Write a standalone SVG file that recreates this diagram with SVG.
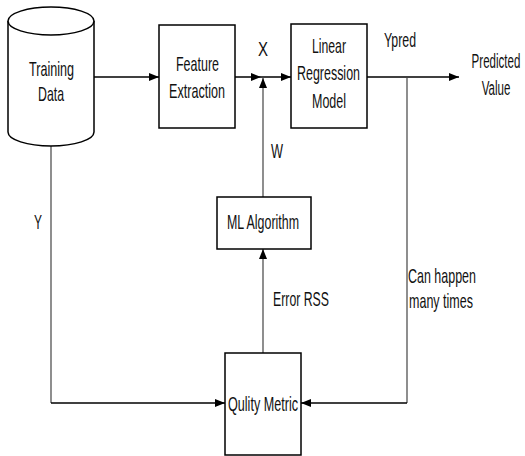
<svg xmlns="http://www.w3.org/2000/svg" width="525" height="456" viewBox="0 0 525 456">
<style>
.box{fill:#fff;stroke:#000;stroke-width:1.5}
.ln{fill:none;stroke:#000;stroke-width:1.5}
.vl{fill:none;stroke:#444;stroke-width:1.2}
text{font-family:"Liberation Sans",Arial,sans-serif;font-size:21px;fill:#111}
.c{text-anchor:middle}
</style>
<defs>
<marker id="ah" markerUnits="userSpaceOnUse" markerWidth="11" markerHeight="9" refX="10" refY="4" orient="auto">
<path d="M0,0 L10,4 L0,8 z" fill="#000"/>
</marker>
</defs>
<rect width="525" height="456" fill="#fff"/>
<g id="connectors">
<path class="ln" d="M94,77 H159" marker-end="url(#ah)"/>
<path class="ln" d="M235,77 H261" marker-end="url(#ah)"/>
<path class="ln" d="M261,77 H291" marker-end="url(#ah)"/>
<path class="vl" d="M263,197 V78" marker-end="url(#ah)"/>
<path class="ln" d="M367,77 H459" marker-end="url(#ah)"/>
<path class="vl" d="M407,77 V403"/>
<path class="ln" d="M407,403 H301" marker-end="url(#ah)"/>
<path class="vl" d="M51,146 V403"/>
<path class="ln" d="M51,403 H225" marker-end="url(#ah)"/>
<path class="vl" d="M263,353 V249" marker-end="url(#ah)"/>
</g>
<g id="training-data">
<path class="box" d="M8,21 V132 A43,14 0 0 0 94,132 V21"/>
<ellipse class="box" cx="51" cy="21" rx="43" ry="14"/>
<text class="c" x="51.5" y="76" textLength="45" lengthAdjust="spacingAndGlyphs">Training</text>
<text class="c" x="51" y="101" textLength="26" lengthAdjust="spacingAndGlyphs">Data</text>
</g>
<g id="feature-extraction">
<rect class="box" x="159" y="25" width="76" height="103"/>
<text class="c" x="197.5" y="71" textLength="43" lengthAdjust="spacingAndGlyphs">Feature</text>
<text class="c" x="197" y="98" textLength="56" lengthAdjust="spacingAndGlyphs">Extraction</text>
</g>
<g id="linear-regression">
<rect class="box" x="291" y="24" width="76" height="104"/>
<text class="c" x="329" y="53" textLength="34" lengthAdjust="spacingAndGlyphs">Linear</text>
<text class="c" x="328.5" y="80" textLength="63" lengthAdjust="spacingAndGlyphs">Regression</text>
<text class="c" x="329" y="108" textLength="34" lengthAdjust="spacingAndGlyphs">Model</text>
</g>
<g id="ml-algorithm">
<rect class="box" x="217" y="197" width="94" height="52"/>
<text class="c" x="263" y="229" textLength="72" lengthAdjust="spacingAndGlyphs">ML Algorithm</text>
</g>
<g id="quality-metric">
<rect class="box" x="225" y="353" width="76" height="102"/>
<text class="c" x="263" y="411" textLength="70" lengthAdjust="spacingAndGlyphs">Qulity Metric</text>
</g>
<g id="predicted-value">
<g transform="translate(496,0) scale(0.55,1)">
<text class="c" x="0" y="68">Predicted</text>
<text class="c" x="0" y="95">Value</text>
</g>
</g>
<g id="labels">
<text class="c" x="263" y="56" textLength="10" lengthAdjust="spacingAndGlyphs">X</text>
<text class="c" x="400" y="47" textLength="32" lengthAdjust="spacingAndGlyphs">Ypred</text>
<text class="c" x="277" y="158" textLength="12" lengthAdjust="spacingAndGlyphs">W</text>
<text class="c" x="38" y="229" textLength="8" lengthAdjust="spacingAndGlyphs">Y</text>
<text class="c" x="301" y="306" textLength="56" lengthAdjust="spacingAndGlyphs">Error RSS</text>
<text x="408" y="283" textLength="68" lengthAdjust="spacingAndGlyphs">Can happen</text>
<text x="409" y="308" textLength="64" lengthAdjust="spacingAndGlyphs">many times</text>
</g>
</svg>
